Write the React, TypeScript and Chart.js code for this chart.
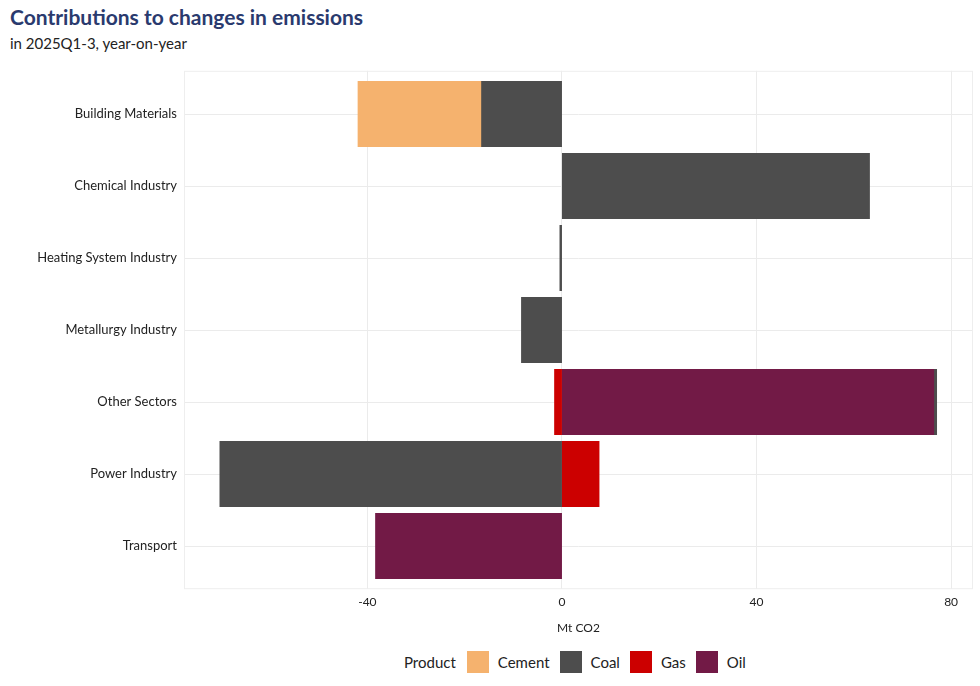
import React, { useEffect, useRef } from "react";
import { Chart, registerables } from "chart.js";

Chart.register(...registerables);

const categories = [
  "Building Materials",
  "Chemical Industry",
  "Heating System Industry",
  "Metallurgy Industry",
  "Other Sectors",
  "Power Industry",
  "Transport",
];
const cementValues = [-25.4, null, null, null, null, null, null];
const coalValues = [-16.5, 63.2, -0.4, -8.3, 0.6, -70.3, null];
const gasValues = [null, null, null, null, -1.5, 7.6, null];
const oilValues = [null, null, null, null, 76.4, null, -38.3];
const xTickValues = [-40, 0, 40, 80];

const products = ["Cement", "Coal", "Gas", "Oil"];
const productColors = ["#F5B26E", "#4D4D4D", "#CC0000", "#721A46"];

const FONT = "Lato, 'Noto Sans', sans-serif";

function toPoints(vals: (number | null)[]) {
  return vals.map((v, i) => ({ x: v, y: i + 1 }));
}

const panelBorder = {
  id: "panelBorder",
  beforeDatasetsDraw(chart: any) {
    const { ctx, chartArea } = chart;
    ctx.save();
    ctx.strokeStyle = "#EEEEEE";
    ctx.lineWidth = 1;
    ctx.strokeRect(chartArea.left + 0.5, chartArea.top + 0.5, chartArea.right - chartArea.left - 1, chartArea.bottom - chartArea.top - 1);
    ctx.restore();
  },
};

export default function App() {
  const ref = useRef<HTMLCanvasElement | null>(null);

  useEffect(() => {
    if (!ref.current) return;
    const series = [
      { label: "Oil", data: toPoints(oilValues), color: productColors[3] },
      { label: "Gas", data: toPoints(gasValues), color: productColors[2] },
      { label: "Coal", data: toPoints(coalValues), color: productColors[1] },
      { label: "Cement", data: toPoints(cementValues), color: productColors[0] },
    ];
    const chart = new Chart(ref.current, {
      type: "bar",
      data: {
        datasets: series.map((s) => ({
          label: s.label,
          data: s.data as any,
          backgroundColor: s.color,
          borderWidth: 0,
          inflateAmount: 0.5,
          categoryPercentage: 0.9,
          barPercentage: 1,
        })),
      },
      options: {
        indexAxis: "y",
        animation: false,
        responsive: false,
        maintainAspectRatio: false,
        layout: { padding: { top: 8, right: 7, left: 0, bottom: 0 } },
        plugins: { legend: { display: false }, tooltip: { enabled: false }, title: { display: false } },
        scales: {
          x: {
            type: "linear",
            stacked: true,
            min: -77.7,
            max: 84.5,
            afterBuildTicks: (scale: any) => {
              scale.ticks = xTickValues.map((v) => ({ value: v }));
            },
            grid: { color: "#EBEBEB", drawTicks: false, lineWidth: 1 },
            border: { display: false },
            ticks: {
              color: "#222",
              font: { family: FONT, size: 12 },
              padding: 6,
              callback: (v: any) => String(v),
            },
            title: {
              display: true,
              text: "Mt CO2",
              color: "#222",
              font: { family: FONT, size: 12 },
              padding: { top: 5, bottom: 2 },
            },
          },
          y: {
            type: "linear",
            stacked: true,
            reverse: true,
            offset: false,
            min: 0.4,
            max: 7.6,
            afterBuildTicks: (scale: any) => {
              scale.ticks = categories.map((_, i) => ({ value: i + 1 }));
            },
            afterFit: (scale: any) => {
              scale.width = 184;
            },
            grid: { color: "#EBEBEB", drawTicks: false, lineWidth: 1, offset: false },
            border: { display: false },
            ticks: {
              color: "#222",
              font: { family: FONT, size: 13 },
              padding: 7,
              autoSkip: false,
              callback: (v: any) => categories[Number(v) - 1] ?? "",
            },
          },
        },
      },
      plugins: [panelBorder],
    } as any);
    return () => chart.destroy();
  }, []);

  return (
    <div style={{ position: "absolute", left: 0, top: 0, width: 980, height: 686, background: "#fff", fontFamily: FONT, overflow: "hidden" }}>
      <div style={{ position: "absolute", left: 10, top: 4, fontSize: 21, fontWeight: 700, color: "#2A3A6E", whiteSpace: "nowrap" }}>
        Contributions to changes in emissions
      </div>
      <div style={{ position: "absolute", left: 10, top: 34, fontSize: 15, color: "#222", whiteSpace: "nowrap" }}>
        in 2025Q1-3, year-on-year
      </div>
      <canvas ref={ref} width={980} height={581} style={{ position: "absolute", left: 0, top: 56, width: 980, height: 581 }} />
      <div style={{ position: "absolute", left: 404, top: 651, height: 22, display: "flex", alignItems: "center", fontSize: 15, color: "#222", whiteSpace: "nowrap" }}>
        <span style={{ marginRight: 11 }}>Product</span>
        {products.map((p, i) => (
          <span key={p} style={{ display: "flex", alignItems: "center", marginRight: 10 }}>
            <span style={{ display: "inline-block", width: 22, height: 22, background: productColors[i], marginRight: 9 }} />
            <span>{p}</span>
          </span>
        ))}
      </div>
    </div>
  );
}
